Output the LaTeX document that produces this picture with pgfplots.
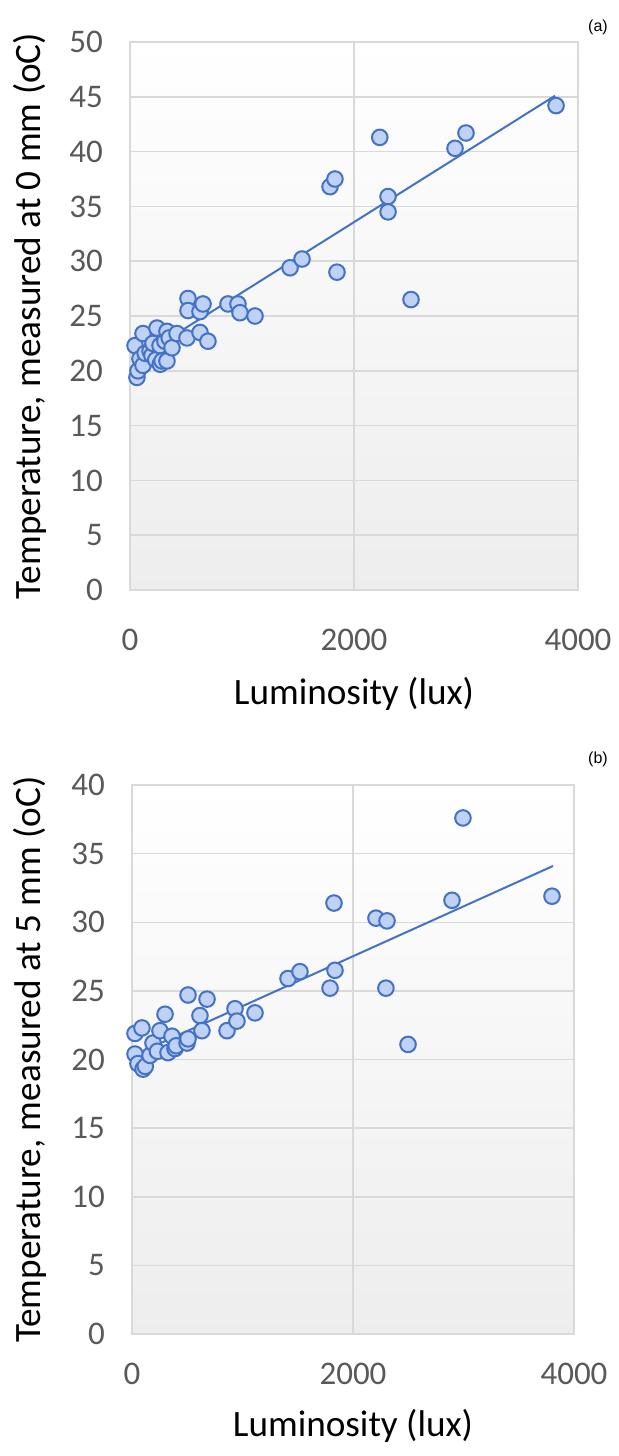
\documentclass[border=0pt]{standalone}
\usepackage{fontspec}
\setmainfont{Carlito}
\newfontfamily\arialfont{Liberation Sans}
\usepackage{pgfplots}
\pgfplotsset{compat=1.18}
\usepackage{pgfplotstable}
\definecolor{xlblue}{HTML}{4472C4}
\definecolor{xlfill}{HTML}{BFD1F4}
\definecolor{gridgray}{HTML}{D9D9D9}
\definecolor{ticktext}{HTML}{595959}

\pgfplotstableread{
x y
45 22.3
62 19.4
71 20.0
89 21.1
116 20.5
116 23.4
135 21.6
179 21.8
196 21.4
205 22.5
230 21.0
241 23.9
268 22.3
270 20.6
286 20.9
312 22.7
330 20.9
330 23.6
350 23.0
375 22.1
420 23.4
509 23.0
518 26.6
518 25.5
625 23.5
625 25.4
652 26.1
696 22.7
875 26.1
964 26.1
982 25.3
1116 25.0
1429 29.4
1536 30.2
1786 36.8
1830 37.5
1848 29.0
2230 41.3
2304 35.9
2304 34.5
2509 26.5
2902 40.3
3000 41.7
3804 44.2
}\dataA

\pgfplotstableread{
x y
27 21.9
27 20.4
54 19.7
90 22.3
100 19.3
120 19.5
163 20.3
190 21.2
230 20.6
253 22.1
299 23.3
326 20.5
362 21.7
389 20.8
400 21.0
498 21.2
507 21.5
507 24.7
615 23.2
633 22.1
679 24.4
860 22.1
932 23.7
950 22.8
1113 23.4
1412 25.9
1520 26.4
1792 25.2
1828 31.4
1837 26.5
2208 30.3
2298 25.2
2308 30.1
2498 21.1
2896 31.6
2995 37.6
3801 31.9
}\dataB

\pgfplotsset{
  mystyle/.style={
    scale only axis,
    anchor=south west,
    xmin=0, xmax=4000,
    ymin=0,
    xtick={0,2000,4000},
    grid=major,
    major grid style={gridgray, line width=0.75pt},
    axis line style={gridgray, line width=0.75pt},
    tick style={draw=none},
    ticklabel style={font=\fontsize{16.5}{18}\selectfont, text=ticktext},
    /pgf/number format/assume math mode=true,
    /pgf/number format/set thousands separator={},
    yticklabel style={xshift=-10pt},
    label style={font=\fontsize{18.6}{20}\selectfont},
    axis background/.style={shade, top color=white, bottom color=black!7},
    clip=false,
  },
  mymarks/.style={only marks, mark=*, mark size=3.9pt,
    mark options={draw=xlblue, fill=xlfill, line width=1pt}},
  mytrend/.style={xlblue, line width=1pt, no marks},
}

\begin{document}
\begin{tikzpicture}
\path[use as bounding box] (0,0) rectangle (309pt,-728pt);
\begin{axis}[mystyle,
  at={(65pt,-295pt)}, width=224pt, height=274pt,
  ymax=50, ytick={0,5,...,50},
  xticklabel style={yshift=-16pt},
  xlabel={Luminosity (lux)},
  ylabel={Temperature, measured at 0 mm (oC)},
  xlabel style={at={(axis description cs:0.5,-0.19)}, anchor=center},
  ylabel style={at={(axis description cs:-0.223,0.5)}, anchor=center},
]
\addplot[mymarks] table[x=x,y=y] {\dataA};
\addplot[mytrend] coordinates {(60,21.1) (3795,45.1)};
\end{axis}
\node[font=\arialfont\fontsize{8}{9}\selectfont] at (299pt,-13.5pt) {(a)};
\begin{axis}[mystyle,
  at={(66pt,-667pt)}, width=221pt, height=274.5pt,
  ymax=40, ytick={0,5,...,40},
  xticklabel style={yshift=-11pt},
  xlabel={Luminosity (lux)},
  ylabel={Temperature, measured at 5 mm (oC)},
  xlabel style={at={(axis description cs:0.5,-0.168)}, anchor=center},
  ylabel style={at={(axis description cs:-0.231,0.5)}, anchor=center},
]
\addplot[mymarks] table[x=x,y=y] {\dataB};
\addplot[mytrend] coordinates {(40,20.4) (3810,34.1)};
\end{axis}
\node[font=\arialfont\fontsize{8}{9}\selectfont] at (299pt,-379.5pt) {(b)};
\end{tikzpicture}
\end{document}
